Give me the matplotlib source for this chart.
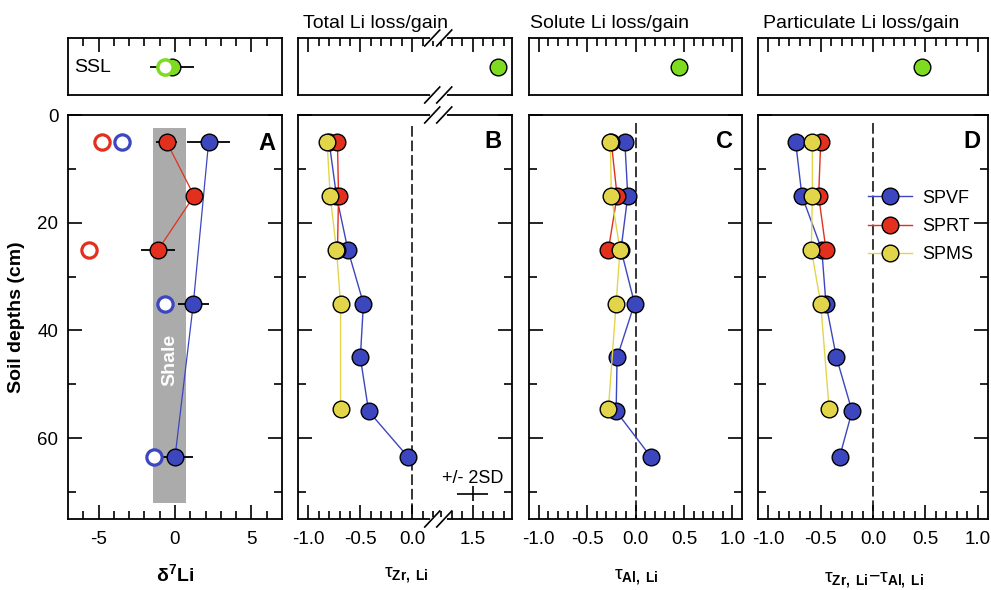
import numpy as np
import matplotlib
matplotlib.use('Agg')
import matplotlib.pyplot as plt
from matplotlib.lines import Line2D

plt.rcParams['font.family'] = ['Liberation Sans', 'DejaVu Sans']
plt.rcParams['mathtext.fontset'] = 'custom'
plt.rcParams['mathtext.rm'] = 'Liberation Sans'
plt.rcParams['mathtext.bf'] = 'Liberation Sans:bold'
plt.rcParams['mathtext.it'] = 'Liberation Sans:italic'

# ---------------- data ----------------
# Panel A: d7Li
a_vf_depth = [5, 35, 63.5]
a_vf_d7 = [2.2, 1.2, 0.0]
a_vf_err = [1.4, 1.0, 1.2]
a_rt_depth = [5, 15, 25]
a_rt_d7 = [-0.55, 1.25, -1.1]
a_rt_err = [0.7, 0.4, 1.1]
a_vf_open_depth = [5, 35, 63.5]
a_vf_open = [-3.5, -0.65, -1.35]
a_rt_open_depth = [5, 25]
a_rt_open = [-4.75, -5.65]
ssl_d7 = -0.2
ssl_d7_err = 1.45
ssl_d7_open = -0.65
shale_x = (-1.45, 0.72)
shale_depth = (2.5, 72)

# Panels B-D: depths
vf_depth = [5, 15, 25, 35, 45, 55, 63.5]
rt_depth = [5, 15, 25]
ms_depth = [5, 15, 25, 35, 54.5]

# Panel B: tau Zr,Li
b_vf = [-0.80, -0.73, -0.62, -0.47, -0.50, -0.42, -0.04]
b_rt = [-0.72, -0.71, -0.72]
b_ms = [-0.82, -0.79, -0.73, -0.69, -0.69]
ssl_b = 1.75
sd_x, sd_depth, sd_xerr, sd_yerr = 1.5, 70.3, 0.15, 1.4

# Panel C: tau Al,Li
c_vf = [-0.11, -0.08, -0.15, -0.01, -0.19, -0.20, 0.16]
c_rt = [-0.25, -0.19, -0.28]
c_ms = [-0.26, -0.25, -0.16, -0.20, -0.28]
ssl_c = 0.45

# Panel D: tau Zr,Li - tau Al,Li
d_vf = [-0.74, -0.68, -0.49, -0.45, -0.35, -0.20, -0.32]
d_rt = [-0.50, -0.52, -0.45]
d_ms = [-0.58, -0.58, -0.59, -0.50, -0.42]
ssl_d = 0.47

series_names = ['SPVF', 'SPRT', 'SPMS']

# ---------------- style ----------------
BLUE = '#3c46be'
RED = '#e3301e'
YEL = '#e3d54a'
GREEN = '#7ddc1f'
GRAY = '#ababab'

W, H = 991, 590
fig = plt.figure(figsize=(W / 100, H / 100), dpi=100)


def px_axes(l, r, t, b):
    return [l / W, 1 - b / H, (r - l) / W, (b - t) / H]


cols = {'A': (68, 282), 'B': (298, 512), 'C': (529, 742), 'D': (758, 988)}
MAIN_T, MAIN_B = 115, 519
TOP_T, TOP_B = 38, 95

TICK_FS = 13.5


def style_main(ax, ylabels=False):
    for s in ax.spines.values():
        s.set_linewidth(1.3)
    ax.set_ylim(75, 0)
    ax.set_yticks([0, 20, 40, 60])
    ax.set_yticks([10, 30, 50, 70], minor=True)
    ax.tick_params(which='both', direction='in', top=False, right=True,
                   bottom=True, left=True, width=1.2, labelsize=TICK_FS)
    ax.tick_params(which='major', length=10)
    ax.tick_params(which='minor', length=6)
    ax.tick_params(axis='x', pad=9)
    ax.tick_params(axis='y', pad=7, labelleft=ylabels)


def style_top(ax):
    for s in ax.spines.values():
        s.set_linewidth(1.3)
    ax.set_ylim(0, 1)
    ax.set_yticks([])
    ax.tick_params(axis='x', which='both', direction='in', top=True,
                   bottom=False, labelbottom=False, labeltop=False, width=1.2)
    ax.tick_params(axis='x', which='major', length=10)
    ax.tick_params(axis='x', which='minor', length=6)


def series(ax, x, d, color, label=None):
    ax.plot(x, d, '-o', color=color, lw=1.0, mfc=color, mec='black',
            mew=1.0, ms=12, label=label, zorder=3)


# ---------------- Panel A ----------------
axA = fig.add_axes(px_axes(*cols['A'], MAIN_T, MAIN_B))
axAt = fig.add_axes(px_axes(*cols['A'], TOP_T, TOP_B))
for ax in (axA, axAt):
    ax.set_xlim(-7, 7)
    ax.set_xticks([-5, 0, 5])
    ax.set_xticks(np.arange(-6, 7, 1), minor=True)
style_main(axA, ylabels=True)
style_top(axAt)
axA.set_xticklabels(['-5', '0', '5'])
axA.set_yticklabels(['0', '20', '40', '60'])

axA.fill_between(shale_x, shale_depth[0], shale_depth[1], color=GRAY, lw=0, zorder=1)
axA.text(np.mean(shale_x), 45.5, 'Shale', color='white', fontsize=14,
         fontweight='bold', rotation=90, ha='center', va='center', zorder=2)
axA.errorbar(a_vf_d7, a_vf_depth, xerr=a_vf_err, fmt='none', ecolor='black',
             elinewidth=1.3, capsize=0, zorder=2)
axA.errorbar(a_rt_d7, a_rt_depth, xerr=a_rt_err, fmt='none', ecolor='black',
             elinewidth=1.3, capsize=0, zorder=2)
axA.plot(a_vf_d7, a_vf_depth, '-o', color=BLUE, lw=0.9, mfc=BLUE, mec='black',
         mew=1.0, ms=12, zorder=3)
axA.plot(a_rt_d7, a_rt_depth, '-o', color=RED, lw=0.9, mfc=RED, mec='black',
         mew=1.0, ms=12, zorder=3)
axA.plot(a_vf_open, a_vf_open_depth, 'o', mfc='white', mec=BLUE, mew=2.3,
         ms=11, zorder=3)
axA.plot(a_rt_open, a_rt_open_depth, 'o', mfc='white', mec=RED, mew=2.3,
         ms=11, zorder=3)
axA.text(0.93, 0.93, 'A', transform=axA.transAxes, fontsize=17,
         fontweight='bold', ha='center', va='center')

axAt.errorbar([ssl_d7], [0.49], xerr=[ssl_d7_err], fmt='none', ecolor='black',
              elinewidth=1.3, capsize=0, zorder=2)
axAt.plot([ssl_d7], [0.49], 'o', mfc=GREEN, mec='black', mew=1.0, ms=12, zorder=3)
axAt.plot([ssl_d7_open], [0.49], 'o', mfc='white', mec=GREEN, mew=2.5, ms=11, zorder=4)
axAt.text(0.03, 0.49, 'SSL', transform=axAt.transAxes, fontsize=14,
          ha='left', va='center')

fig.text(175 / W, 1 - 574 / H, r'δ$^{\mathbf{7}}$Li', fontsize=14,
         fontweight='bold', ha='center', va='center')
fig.text(17 / W, 1 - 317 / H, 'Soil depths (cm)', fontsize=14,
         fontweight='bold', rotation=90, ha='center', va='center')

# ---------------- Panel B (broken x axis) ----------------
b1, b2 = 0.25, 1.17


def fwd(x):
    x = np.asarray(x, dtype=float)
    return np.where(x <= b1, x, np.where(x >= b2, x - (b2 - b1), b1))


def inv(y):
    y = np.asarray(y, dtype=float)
    return np.where(y <= b1, y, y + (b2 - b1))


axB = fig.add_axes(px_axes(*cols['B'], MAIN_T, MAIN_B))
axBt = fig.add_axes(px_axes(*cols['B'], TOP_T, TOP_B))
b_major = [-1.0, -0.5, 0.0, 1.5]
b_minor = [-0.9, -0.8, -0.7, -0.6, -0.4, -0.3, -0.2, -0.1, 0.1, 0.2,
           1.2, 1.3, 1.4, 1.6, 1.7, 1.8]
for ax in (axB, axBt):
    ax.set_xscale('function', functions=(fwd, inv))
    ax.set_xlim(-1.1, 1.88)
    ax.set_xticks(b_major)
    ax.set_xticks(b_minor, minor=True)
style_main(axB)
style_top(axBt)
axB.set_xticklabels(['-1.0', '-0.5', '0.0', '1.5'])
axB.plot([0, 0], [2, 75], color='black', lw=1.1, dashes=(7, 2.5), zorder=1)
series(axB, b_vf, vf_depth, BLUE)
series(axB, b_rt, rt_depth, RED)
series(axB, b_ms, ms_depth, YEL)
axB.errorbar([sd_x], [sd_depth], xerr=[sd_xerr], yerr=[sd_yerr], fmt='none',
             ecolor='black', elinewidth=1.2, capsize=0)
axB.text(sd_x, sd_depth - 2.0, '+/- 2SD', fontsize=13, ha='center', va='baseline')
axB.text(0.91, 0.935, 'B', transform=axB.transAxes, fontsize=17,
         fontweight='bold', ha='center', va='center')
axBt.plot([ssl_b], [0.49], 'o', mfc=GREEN, mec='black', mew=1.0, ms=12)
fig.text(303 / W, 1 - 28 / H, 'Total Li loss/gain', fontsize=14,
         ha='left', va='baseline')
fig.text(406 / W, 1 - 575 / H, r'τ$_{\mathbf{Zr,\ Li}}$', fontsize=14,
         ha='center', va='center')


def break_marks(ax, yfrac):
    xd = ax.transData.transform((b1, 0.5))[0]
    yd = ax.transAxes.transform((0.5, yfrac))[1]
    inv_f = fig.transFigure.inverted()

    def seg(p0, p1, **kw):
        a = inv_f.transform(p0)
        b = inv_f.transform(p1)
        fig.add_artist(Line2D([a[0], b[0]], [a[1], b[1]],
                              transform=fig.transFigure, **kw))

    seg((xd - 6, yd), (xd + 6, yd), color='white', lw=3.5, zorder=5)
    for off in (-6, 6):
        seg((xd + off - 7.5, yd - 8), (xd + off + 7.5, yd + 8),
            color='black', lw=1.2, zorder=6)


for ax in (axB, axBt):
    break_marks(ax, 0.0)
    break_marks(ax, 1.0)

# ---------------- Panel C ----------------
tau_major = [-1.0, -0.5, 0.0, 0.5, 1.0]
tau_minor = [v / 10 for v in range(-10, 11) if v % 5 != 0]
tau_labels = ['-1.0', '-0.5', '0.0', '0.5', '1.0']

axC = fig.add_axes(px_axes(*cols['C'], MAIN_T, MAIN_B))
axCt = fig.add_axes(px_axes(*cols['C'], TOP_T, TOP_B))
for ax in (axC, axCt):
    ax.set_xlim(-1.1, 1.1)
    ax.set_xticks(tau_major)
    ax.set_xticks(tau_minor, minor=True)
style_main(axC)
style_top(axCt)
axC.set_xticklabels(tau_labels)
axC.plot([0, 0], [1.5, 75], color='black', lw=1.1, dashes=(7, 2.5), zorder=1)
series(axC, c_vf, vf_depth, BLUE)
series(axC, c_rt, rt_depth, RED)
series(axC, c_ms, ms_depth, YEL)
axC.text(0.92, 0.935, 'C', transform=axC.transAxes, fontsize=17,
         fontweight='bold', ha='center', va='center')
axCt.plot([ssl_c], [0.49], 'o', mfc=GREEN, mec='black', mew=1.0, ms=12)
fig.text(530 / W, 1 - 28 / H, 'Solute Li loss/gain', fontsize=14,
         ha='left', va='baseline')
fig.text(636 / W, 1 - 577 / H, r'τ$_{\mathbf{Al,\ Li}}$', fontsize=14,
         ha='center', va='center')

# ---------------- Panel D ----------------
axD = fig.add_axes(px_axes(*cols['D'], MAIN_T, MAIN_B))
axDt = fig.add_axes(px_axes(*cols['D'], TOP_T, TOP_B))
for ax in (axD, axDt):
    ax.set_xlim(-1.1, 1.1)
    ax.set_xticks(tau_major)
    ax.set_xticks(tau_minor, minor=True)
style_main(axD)
style_top(axDt)
axD.set_xticklabels(tau_labels)
axD.plot([0, 0], [1.5, 75], color='black', lw=1.1, dashes=(7, 2.5), zorder=1)
series(axD, d_vf, vf_depth, BLUE, series_names[0])
series(axD, d_rt, rt_depth, RED, series_names[1])
series(axD, d_ms, ms_depth, YEL, series_names[2])
axD.text(0.93, 0.935, 'D', transform=axD.transAxes, fontsize=17,
         fontweight='bold', ha='center', va='center')
axDt.plot([ssl_d], [0.49], 'o', mfc=GREEN, mec='black', mew=1.0, ms=12)
axD.legend(loc='upper left', bbox_to_anchor=(0.48, 0.815), frameon=False,
           fontsize=13, handlelength=2.4, handletextpad=0.6,
           labelspacing=0.62, borderpad=0, borderaxespad=0)
fig.text(763 / W, 1 - 28 / H, 'Particulate Li loss/gain', fontsize=14,
         ha='left', va='baseline')
fig.text(874 / W, 1 - 580 / H,
         r'τ$_{\mathbf{Zr,\ Li}}$$-$τ$_{\mathbf{Al,\ Li}}$',
         fontsize=14, ha='center', va='center')

fig.savefig('out.png', dpi=100)
